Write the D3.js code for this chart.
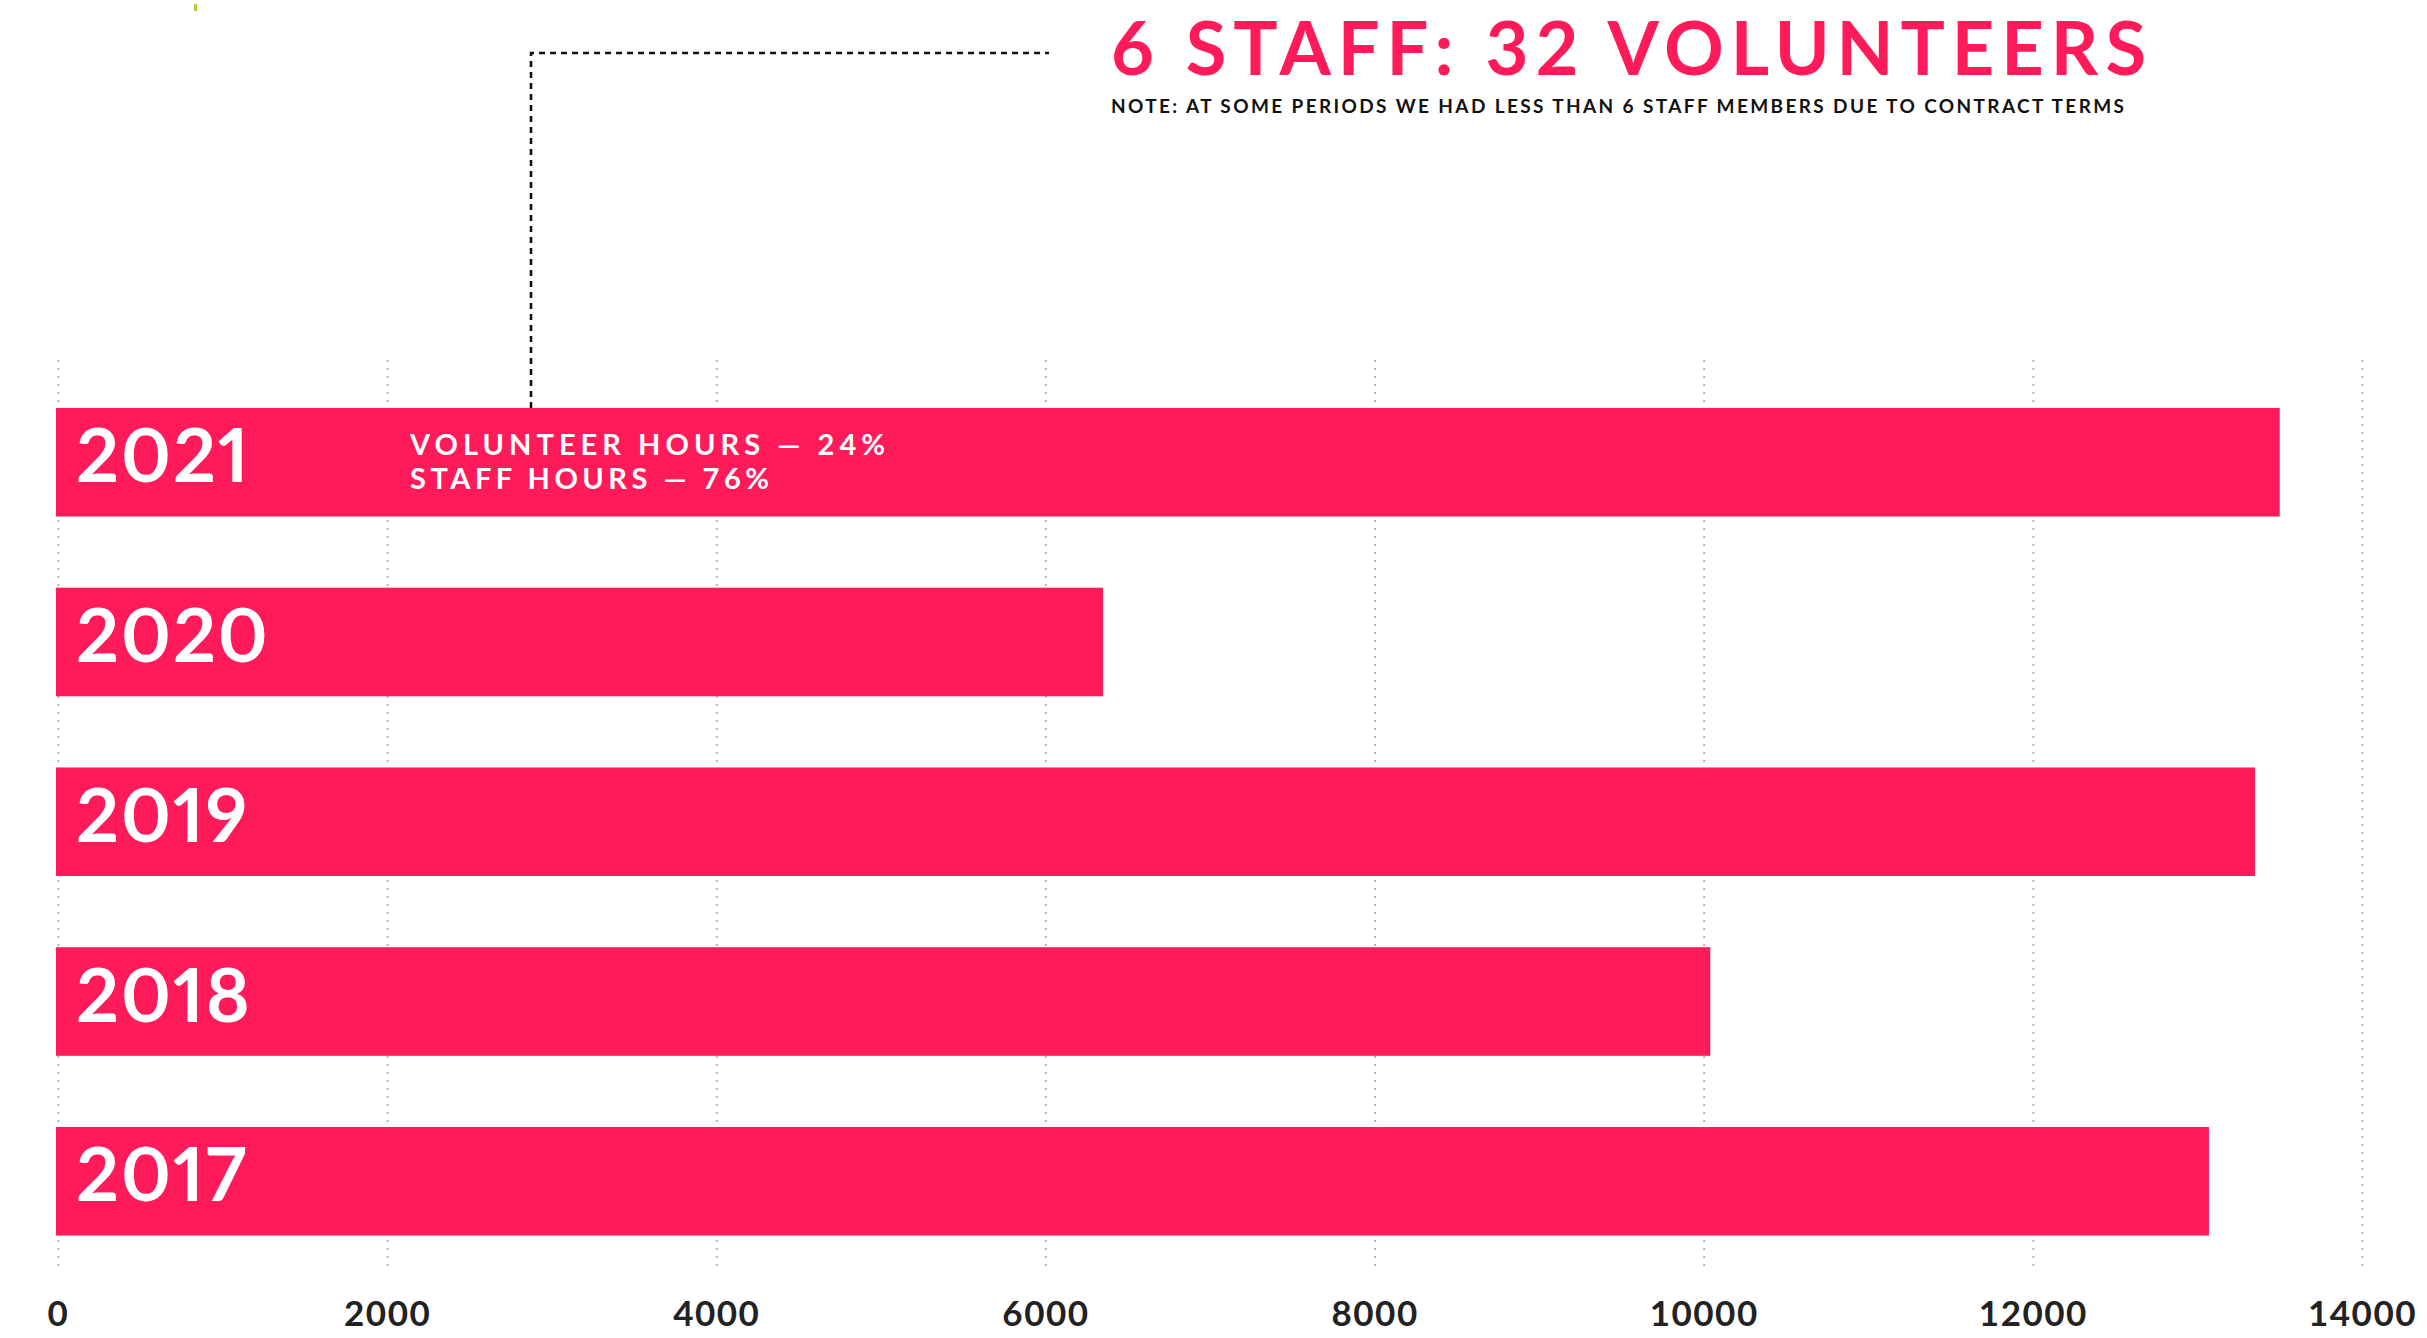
<!DOCTYPE html>
<html>
<head>
<meta charset="utf-8">
<script src="https://cdn.jsdelivr.net/npm/d3@7"></script>
<style>
  html, body { margin: 0; padding: 0; background: #fff; }
  svg { display: block; }
</style>
</head>
<body>
<script>
// hours worked per year
const years = ["2021", "2020", "2019", "2018", "2017"]
const hours = [13500, 6350, 13350, 10040, 13070]
const tickValues = [0, 2000, 4000, 6000, 8000, 10000, 12000, 14000]
const title = "6 STAFF: 32 VOLUNTEERS"
const note = "NOTE: AT SOME PERIODS WE HAD LESS THAN 6 STAFF MEMBERS DUE TO CONTRACT TERMS"
const splitLines = ["VOLUNTEER HOURS — 24%", "STAFF HOURS — 76%"]

const W = 2427, H = 1338
const pink = "#ff1a59"
const font = "Lato, 'Open Sans', sans-serif"

const data = years.map((y, i) => ({year: y, value: hours[i]}))

const svg = d3.select("body").append("svg")
    .attr("width", W)
    .attr("height", H)

const x = d3.scaleLinear()
    .domain([0, 14000])
    .range([58, 2362])

const y = d3.scaleBand()
    .domain(years)
    .range([372, 1271.5])
    .paddingInner(0.396)
    .paddingOuter(0.2)

const gridTop = 358, gridBottom = 1266

// dotted vertical gridlines (under the bars)
const grid = svg.append("g")
    .attr("transform", `translate(0,${gridBottom})`)
    .call(d3.axisTop(x).tickValues(tickValues).tickSize(gridBottom - gridTop).tickFormat(""))
grid.select(".domain").remove()
grid.selectAll("line")
    .attr("stroke", "#b5b5b5")
    .attr("stroke-width", 2)
    .attr("stroke-dasharray", "2,6")

// bars
svg.append("g").selectAll("rect")
    .data(data)
    .join("rect")
    .attr("x", x(0) - 2)
    .attr("y", d => y(d.year))
    .attr("width", d => x(d.value) - x(0) + 2)
    .attr("height", y.bandwidth())
    .attr("fill", pink)

// year labels inside bars
svg.append("g").selectAll("text")
    .data(data)
    .join("text")
    .attr("x", 76)
    .attr("y", d => y(d.year) + y.bandwidth() / 2 + 20)
    .text(d => d.year)
    .attr("fill", "#fff")
    .attr("font-family", font)
    .attr("font-weight", 700)
    .attr("font-size", "75px")
    .style("letter-spacing", "2px")
    .style("font-variant-numeric", "proportional-nums")

// bottom axis labels
const axis = svg.append("g")
    .attr("transform", "translate(0,1326)")
    .call(d3.axisBottom(x).tickValues(tickValues).tickSize(0).tickPadding(0).tickFormat(d3.format("d")))
axis.select(".domain").remove()
axis.selectAll("text")
    .attr("dy", 0)
    .attr("fill", "#222")
    .attr("font-family", font)
    .attr("font-weight", 700)
    .attr("font-size", "35px")
    .style("letter-spacing", "1.5px")

// split annotation on the 2021 bar
svg.append("g").selectAll("text")
    .data(splitLines)
    .join("text")
    .attr("x", 410)
    .attr("y", (d, i) => 455 + i * 34)
    .text(d => d)
    .attr("textLength", (d, i) => i === 0 ? 475 : 359)
    .attr("lengthAdjust", "spacing")
    .attr("fill", "#fff")
    .attr("font-family", font)
    .attr("font-weight", 700)
    .attr("font-size", "29px")

// dashed leader from the 2021 bar up to the headline
svg.append("path")
    .attr("d", `M531,${y("2021")}V53H1049`)
    .attr("fill", "none")
    .attr("stroke", "#111")
    .attr("stroke-width", 2.6)
    .attr("stroke-dasharray", "6,5")

// headline
svg.append("text")
    .attr("x", 1111)
    .attr("y", 75)
    .text(title)
    .attr("textLength", 1035)
    .attr("lengthAdjust", "spacing")
    .attr("fill", pink)
    .attr("font-family", font)
    .attr("font-weight", 700)
    .attr("font-size", "74px")

svg.append("text")
    .attr("x", 1111)
    .attr("y", 113)
    .text(note)
    .attr("textLength", 1013)
    .attr("lengthAdjust", "spacing")
    .attr("fill", "#111")
    .attr("font-family", font)
    .attr("font-weight", 700)
    .attr("font-size", "19px")

// small green mark at the top left of the original
svg.append("rect")
    .attr("x", 194)
    .attr("y", 4)
    .attr("width", 3)
    .attr("height", 7)
    .attr("fill", "#a8d03c")
</script>
</body>
</html>
